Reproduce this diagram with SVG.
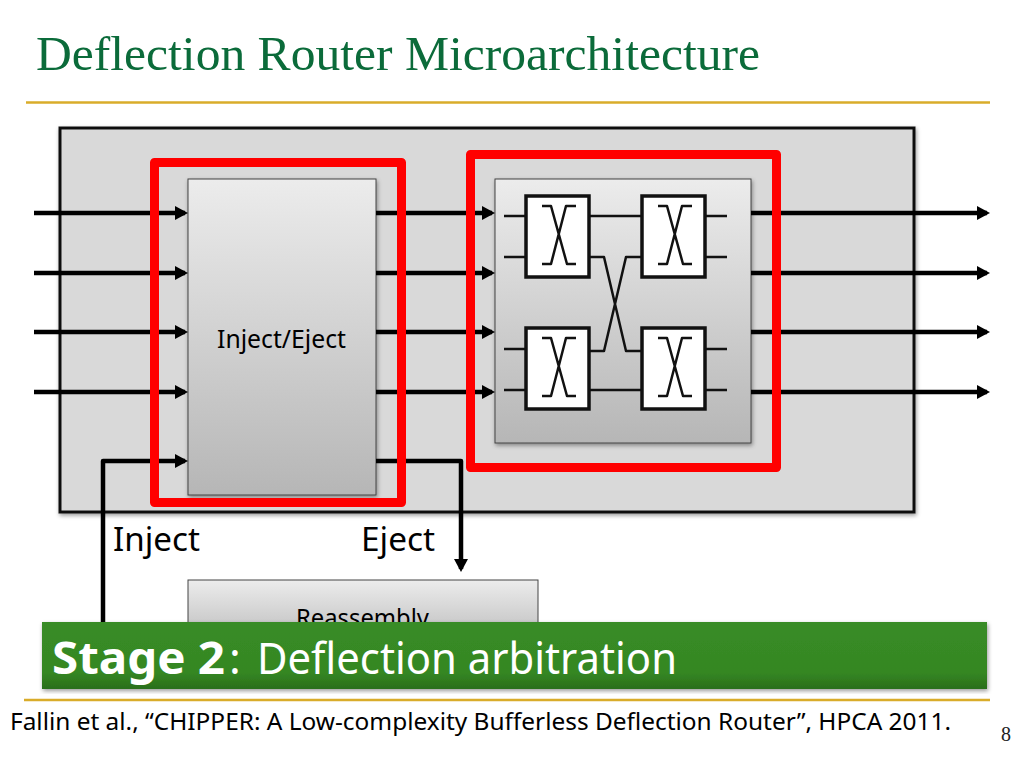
<svg xmlns="http://www.w3.org/2000/svg" width="1024" height="768" viewBox="0 0 1024 768">
<style>
.t{font-family:"Noto Sans","Open Sans",sans-serif;fill:#000}
.b{font-family:"Noto Sans","Open Sans",sans-serif;fill:#fff;font-size:44px}
.block{stroke:#444;stroke-width:1;fill:url(#g)}
.red{fill:none;stroke:#ff0000;stroke-width:9;stroke-linejoin:round}
.wire{fill:none;stroke:#000;stroke-width:4.500;stroke-linejoin:round}
.thin{fill:none;stroke:#111;stroke-width:2.500;stroke-linejoin:round}
.sw{fill:#fff;stroke:#111;stroke-width:3.500}
.gold{stroke:#d9ac2a;stroke-width:2.500}
</style>
<defs>
<linearGradient id="g" x1="0" y1="0" x2="0" y2="1"><stop offset="0" stop-color="#ececec"/><stop offset="1" stop-color="#b6b6b6"/></linearGradient>
<linearGradient id="bn" x1="0" y1="0" x2="0" y2="1"><stop offset="0" stop-color="#388c26"/><stop offset="0.75" stop-color="#358723"/><stop offset="1" stop-color="#2a6e1b"/></linearGradient>
<filter id="sh" x="-5%" y="-5%" width="110%" height="112%"><feDropShadow dx="1" dy="2" stdDeviation="2" flood-color="#000" flood-opacity="0.4"/></filter>
<marker id="ah" markerUnits="userSpaceOnUse" markerWidth="14" markerHeight="15" refX="10" refY="7.500" orient="auto"><path d="M0 0.500L13 7.500L0 14.500Z" fill="#000"/></marker>
<g id="swg"><rect class="sw" x="0" y="0" width="63" height="81"/><path class="thin" d="M16 10H25L41 68H50M50 10H40L25 68H16"/></g>
</defs>
<rect width="1024" height="768" fill="#fff"/>
<text id="title" x="36" y="70" font-family="'Liberation Serif',serif" font-size="49" fill="#0b6b3a" textLength="724" lengthAdjust="spacingAndGlyphs">Deflection Router Microarchitecture</text>
<line class="gold" x1="26" y1="102.500" x2="990" y2="102.500"/>
<g id="router"><rect x="60" y="128" width="854" height="384" fill="#d9d9d9" stroke="#111" stroke-width="3" filter="url(#sh)"/></g>
<g id="inject-eject"><rect class="block" x="188" y="179" width="188" height="316" filter="url(#sh)"/><text class="t" x="217" y="348" font-size="25" textLength="129" lengthAdjust="spacingAndGlyphs">Inject/Eject</text></g>
<g id="crossbar"><rect class="block" x="495" y="179" width="256" height="264" filter="url(#sh)"/>
<path class="thin" d="M504 216H526M504 257H526M504 349H526M504 390H526M589 216H642M589 390H642M705 216H727M705 257H727M705 349H727M705 390H727M589 257H604L626 351H642M589 351H604L626 257H642"/>
<use href="#swg" x="526" y="196"/><use href="#swg" x="642" y="196"/><use href="#swg" x="526" y="328"/><use href="#swg" x="642" y="328"/></g>
<g id="connectors">
<path class="wire" marker-end="url(#ah)" d="M34 213H185"/><path class="wire" marker-end="url(#ah)" d="M34 273H185"/><path class="wire" marker-end="url(#ah)" d="M34 332H185"/><path class="wire" marker-end="url(#ah)" d="M34 392H185"/>
<path class="wire" marker-end="url(#ah)" d="M376 213H492"/><path class="wire" marker-end="url(#ah)" d="M376 273H492"/><path class="wire" marker-end="url(#ah)" d="M376 332H492"/><path class="wire" marker-end="url(#ah)" d="M376 392H492"/>
<path class="wire" marker-end="url(#ah)" d="M751 213H987"/><path class="wire" marker-end="url(#ah)" d="M751 273H987"/><path class="wire" marker-end="url(#ah)" d="M751 332H987"/><path class="wire" marker-end="url(#ah)" d="M751 392H987"/>
<path class="wire" marker-end="url(#ah)" d="M103 640V461H185"/><path class="wire" marker-end="url(#ah)" d="M376 461H461V569"/>
</g>
<g id="highlights"><rect class="red" x="154.500" y="162.500" width="247" height="340"/><rect class="red" x="470.500" y="154.500" width="306" height="313"/></g>
<g id="labels"><text class="t" x="113" y="551" font-size="33" textLength="87" lengthAdjust="spacingAndGlyphs">Inject</text><text class="t" x="361" y="551" font-size="33" textLength="74" lengthAdjust="spacingAndGlyphs">Eject</text></g>
<g id="reassembly"><rect class="block" x="188" y="580" width="350" height="70"/><text class="t" x="296" y="627" font-size="25" textLength="133" lengthAdjust="spacingAndGlyphs">Reassembly</text></g>
<g id="banner"><rect x="42" y="622" width="945" height="67" fill="url(#bn)" filter="url(#sh)"/>
<text class="b" x="52" y="674" font-weight="bold" textLength="173" lengthAdjust="spacingAndGlyphs">Stage 2</text>
<text class="b" x="229" y="674">:</text>
<text class="b" x="257" y="674" textLength="420" lengthAdjust="spacingAndGlyphs">Deflection arbitration</text></g>
<line class="gold" x1="24" y1="700" x2="990" y2="700"/>
<text id="citation" class="t" x="10" y="730" font-size="24" textLength="941" lengthAdjust="spacingAndGlyphs">Fallin et al., “CHIPPER: A Low-complexity Bufferless Deflection Router”, HPCA 2011.</text>
<text id="page" x="1001" y="741" font-family="'Liberation Serif',serif" font-size="20" fill="#222">8</text>
</svg>
